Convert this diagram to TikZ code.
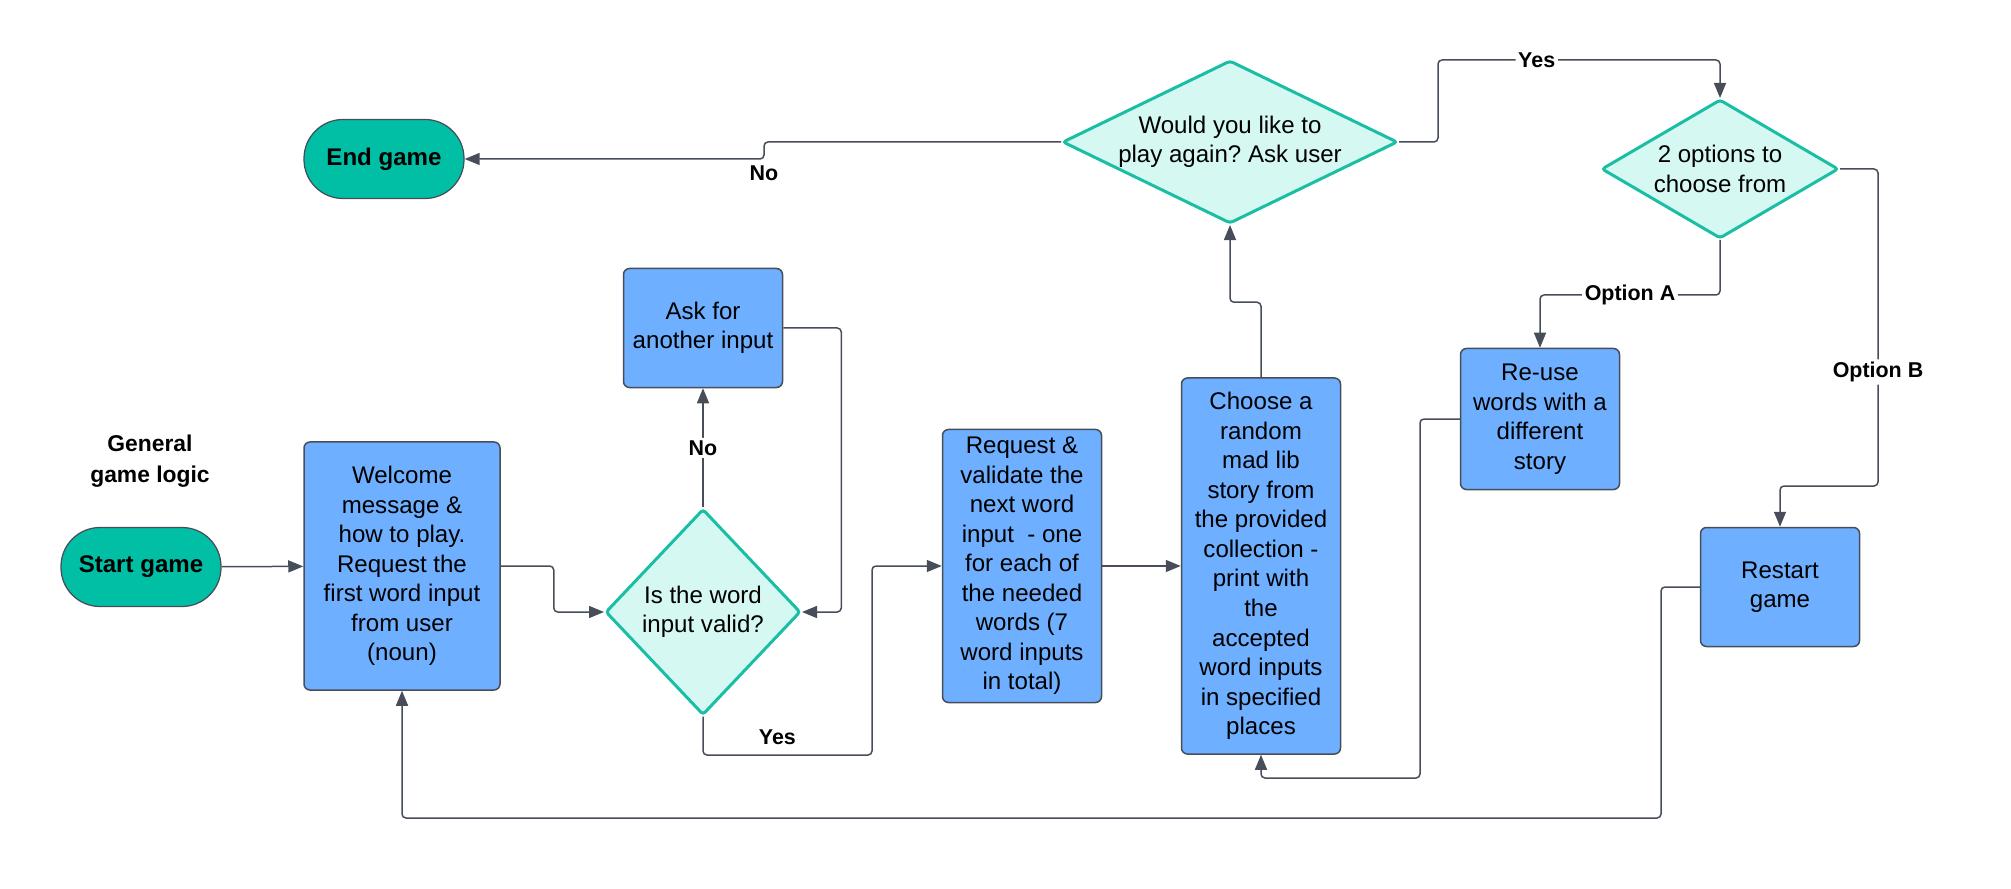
\documentclass[tikz,border=0pt]{standalone}
\usepackage{fontspec}
\setmainfont{Liberation Sans}
\frenchspacing
\usetikzlibrary{shapes.geometric,arrows.meta}
\definecolor{termfill}{RGB}{0,191,165}
\definecolor{procfill}{RGB}{110,175,255}
\definecolor{decfill}{RGB}{214,248,242}
\definecolor{decline}{RGB}{25,190,165}
\definecolor{wire}{RGB}{71,78,90}
\tikzset{
  terminal/.style={draw=wire, line width=0.25mm, fill=termfill, rounded corners=7.8mm,
    minimum width=32mm, minimum height=15.8mm, font=\fontsize{13.7}{16.8}\selectfont\bfseries},
  process/.style={draw=wire, line width=0.3mm, fill=procfill, rounded corners=1.2mm,
    align=center, inner sep=0pt, font=\fontsize{13.7}{16.8}\selectfont},
  decision/.style={diamond, draw=decline, line width=0.6mm, fill=decfill, rounded corners=0.6mm,
    align=center, inner sep=0pt, font=\fontsize{13.7}{16.8}\selectfont},
  flow/.style={draw=wire, line width=0.3mm, rounded corners=0.8mm, -{Triangle[length=3mm,width=2.4mm]}},
  tag/.style={font=\fontsize{12.2}{14}\selectfont\bfseries, fill=white, inner sep=1.5pt}
}
\begin{document}
\begin{tikzpicture}[x=0.2mm, y=-0.2mm]
    \useasboundingbox (0,0) rectangle (2011,889);
    \node[align=center, font=\fontsize{13}{17.5}\selectfont\bfseries] (title) at (150,461) {General\\game logic};
    \node[terminal] (start) at (141,567) {Start game};
    \node[terminal] (endg) at (384,159) {End game};
    \node[process, minimum width=39.2mm, minimum height=49.6mm] (welcome) at (402,566)
        {Welcome\\message \&\\how to play.\\Request the\\first word input\\from user\\(noun)};
    \node[decision, minimum width=39mm, minimum height=41.2mm, aspect=0.95] (valid) at (703,612) {Is the word\\input valid?};
    \node[process, minimum width=31.8mm, minimum height=23.8mm] (ask) at (703,328) {Ask for\\another input};
    \node[process, minimum width=31.8mm, minimum height=54.6mm] (request) at (1022,566)
        {Request \&\\validate the\\next word\\input\ \ - one\\for each of\\the needed\\words (7\\word inputs\\in total)};
    \node[process, minimum width=31.8mm, minimum height=75.2mm] (choose) at (1261,566)
        {Choose a\\random\\mad lib\\story from\\the provided\\collection -\\print with\\the\\accepted\\word inputs\\in specified\\places};
    \node[decision, minimum width=67mm, minimum height=32.6mm, aspect=2.05, inner xsep=-8mm] (again) at (1230,142)
        {Would you like to\\play again? Ask user};
    \node[decision, minimum width=47.4mm, minimum height=27.8mm, aspect=1.7] (opts) at (1720,169) {2 options to\\choose from};
    \node[process, minimum width=31.8mm, minimum height=28.2mm] (reuse) at (1540,419) {Re-use\\words with a\\different\\story};
    \node[process, minimum width=31.8mm, minimum height=23.8mm] (restart) at (1780,587) {Restart\\game};

    \draw[flow] (start) -- (welcome);
    \draw[flow] (welcome.east) -- ++(53,0) |- (valid.west);
    \draw[flow] (valid.north) -- node[tag] {No} (ask.south);
    \draw[flow] (ask.east) -- ++(58,0) |- (valid.east);
    \draw[flow] (valid.south) |- node[tag, pos=0.72, above=4pt] {Yes} (872,755) |- (request.west);
    \draw[flow] (request) -- (choose);
    \draw[flow] (choose.north) -- ++(0,-75) -| (again.south);
    \draw[flow] (again.west) -| (764,159) node[tag, below=2pt] {No} -- (endg.east);
    \draw[flow] (again.east) -| (1438,60) -- node[tag, pos=0.35] {Yes} (1720,60) -- (opts.north);
    \draw[flow] (opts.south) |- node[tag, pos=0.75] {Option A} (1540,295) -- (reuse.north);
    \draw[flow] (opts.east) -| node[tag, pos=0.82] {Option B} (1878,486) -| (restart.north);
    \draw[flow] (reuse.west) -| (1420,778) -| (choose.south);
    \draw[flow] (restart.west) -| (1661,818) -| (welcome.south);
\end{tikzpicture}
\end{document}
